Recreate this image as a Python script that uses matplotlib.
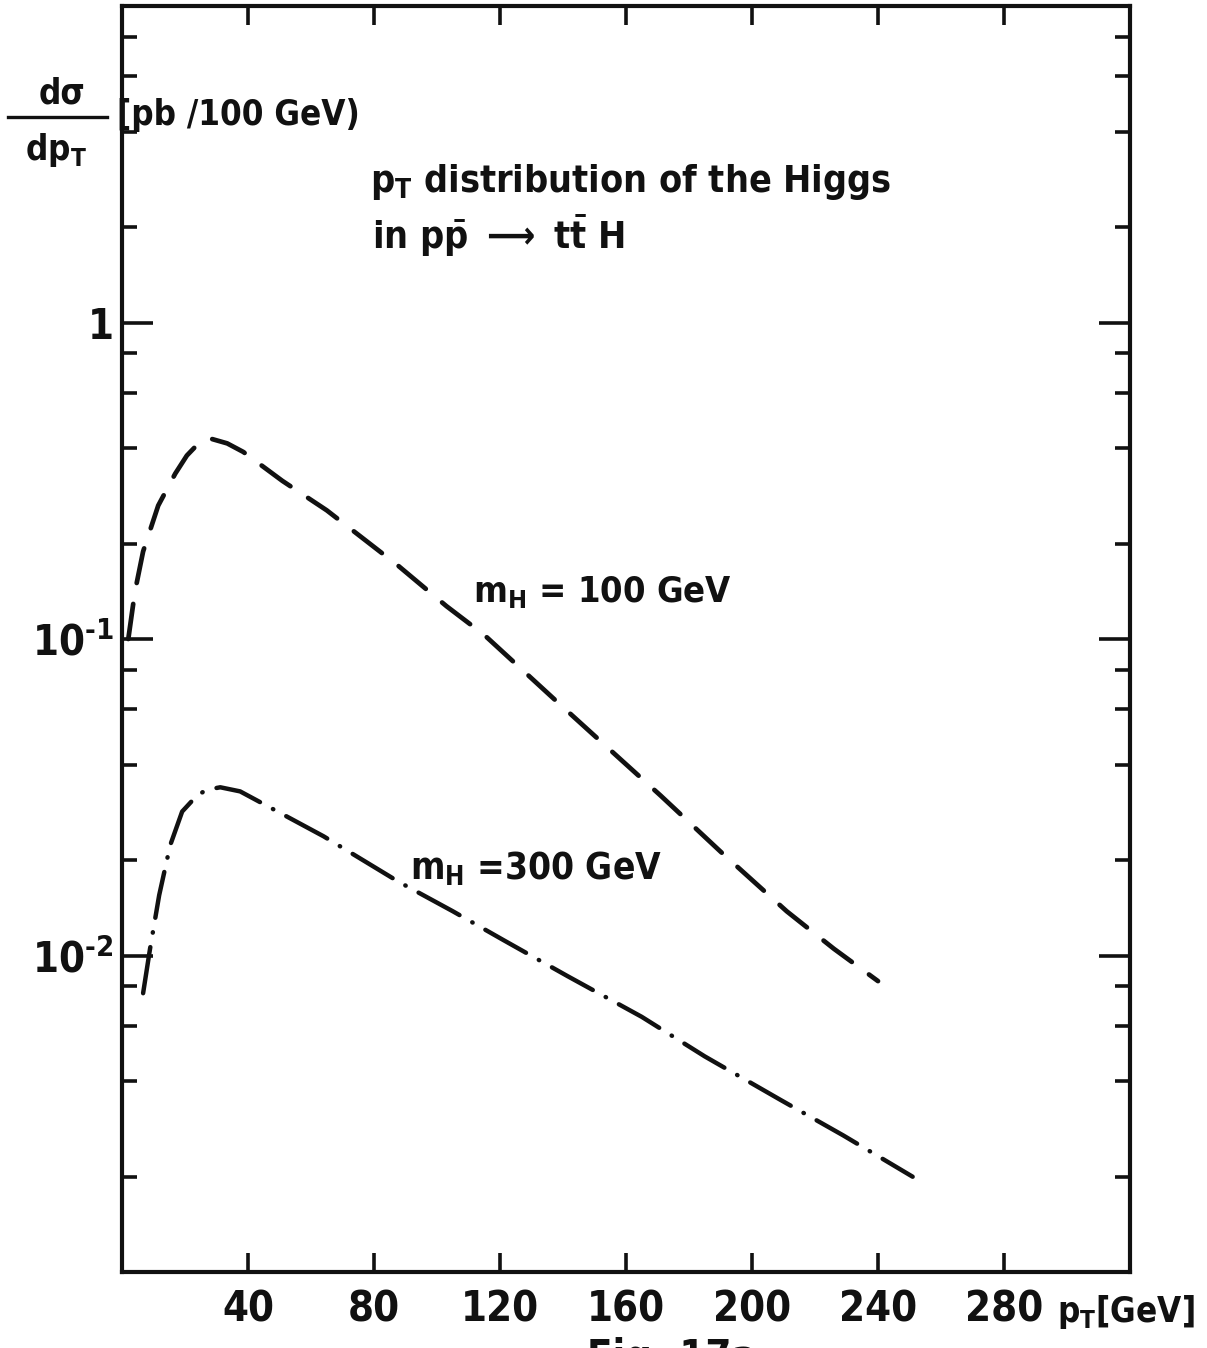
import numpy as np
import matplotlib.pyplot as plt
from matplotlib.ticker import FixedLocator, LogLocator, NullFormatter
from matplotlib.lines import Line2D

# p_T distribution of the Higgs in p pbar -> t tbar H
pt_100 = [2, 4.1, 6.7, 11.5, 16.9, 20.6, 24.8, 28, 33.4, 38.5, 50.9, 65, 87.5, 103,
          115, 138, 158, 171, 190, 211, 226, 240]
ds_100 = [0.100, 0.141, 0.189, 0.264, 0.333, 0.38, 0.42, 0.43, 0.415, 0.39, 0.316, 0.255,
          0.171, 0.127, 0.103, 0.0635, 0.0419, 0.032, 0.0213, 0.0138, 0.0105, 0.0083]

pt_300 = [6.7, 8.9, 11.8, 15.3, 19.1, 23.9, 27, 31.2, 37.5, 47.7, 64, 87.8, 105, 121,
          141.5, 165, 185, 209, 229, 251]
ds_300 = [0.0076, 0.0105, 0.0155, 0.0223, 0.0285, 0.0321, 0.0334, 0.034, 0.033, 0.0291,
          0.0238, 0.0171, 0.0138, 0.0112, 0.0086, 0.0064, 0.0048, 0.0035, 0.0027, 0.0020]

x_ticks = [40, 80, 120, 160, 200, 240, 280]
y_major = [1e-3, 1e-2, 1e-1, 1, 10]
y_labels = ['', r'$10^{\text{-2}}$', r'$10^{\text{-1}}$', '1', '']

ink = '#111111'
plt.rcParams['font.family'] = ['DejaVu Sans']
plt.rcParams['font.stretch'] = 'condensed'
plt.rcParams['font.weight'] = 'bold'
plt.rcParams['mathtext.default'] = 'regular'
plt.rcParams['text.color'] = ink

W, H = 1207, 1348
fig = plt.figure(figsize=(W / 100, H / 100), dpi=100)

def fx(px):
    return px / W

def fy(py):
    return 1 - py / H

ax = fig.add_axes([fx(122), fy(1272), (1130 - 122) / W, (1272 - 6) / H])
ax.set_yscale('log')
ax.set_xlim(0, 320)
ax.set_ylim(1e-3, 10)

ax.plot(pt_100, ds_100, color=ink, lw=3.4, linestyle=(0, (7.5, 4.5)),
        dash_capstyle='round', solid_capstyle='round')
ax.plot(pt_300, ds_300, color=ink, lw=3.2, linestyle=(0, (10.5, 3.3, 0.1, 3.3)),
        dash_capstyle='round', solid_capstyle='round')

for s in ax.spines.values():
    s.set_linewidth(3)
    s.set_color(ink)

ax.set_xticks(x_ticks)
ax.set_xticklabels([str(v) for v in x_ticks])
ax.yaxis.set_major_locator(FixedLocator(y_major))
ax.set_yticklabels(y_labels)
ax.yaxis.set_minor_locator(LogLocator(base=10, subs=[2, 4, 6, 8], numticks=20))
ax.yaxis.set_minor_formatter(NullFormatter())

ax.tick_params(which='both', direction='in', top=True, right=True, width=2.6,
               color=ink, labelcolor=ink)
ax.tick_params(axis='x', length=14, labelsize=30, pad=12)
ax.tick_params(axis='y', which='major', length=22, labelsize=30, pad=6)
ax.tick_params(axis='y', which='minor', length=11)

# y label as a fraction
fig.text(fx(62), fy(103), 'd\u03c3', ha='center', va='baseline', fontsize=25)
fig.add_artist(Line2D([fx(8), fx(107)], [fy(117), fy(117)], color=ink, lw=2.4))
fig.text(fx(56), fy(160), '$dp_T$', ha='center', va='baseline', fontsize=25)
fig.text(fx(117), fy(125), '[pb /100 GeV)', ha='left', va='baseline', fontsize=25)

fig.text(fx(370), fy(192), '$p_T$ distribution of the Higgs', ha='left', va='baseline',
         fontsize=27)
fig.text(fx(372), fy(249), r'in $p\bar{p}$ $\longrightarrow$ $t\bar{t}$ H', ha='left',
         va='baseline', fontsize=27)

fig.text(fx(473), fy(602), '$m_H$ = 100 GeV', ha='left', va='baseline', fontsize=26)
fig.text(fx(410), fy(880), '$m_H$ =300 GeV', ha='left', va='baseline', fontsize=26.5)

fig.text(fx(1057), fy(1322), '$p_T$[GeV]', ha='left', va='baseline', fontsize=25)
fig.text(fx(587), fy(1337), 'Fig. 17a', ha='left', va='top', fontsize=30)

fig.savefig('out.png', dpi=100, facecolor='white')
